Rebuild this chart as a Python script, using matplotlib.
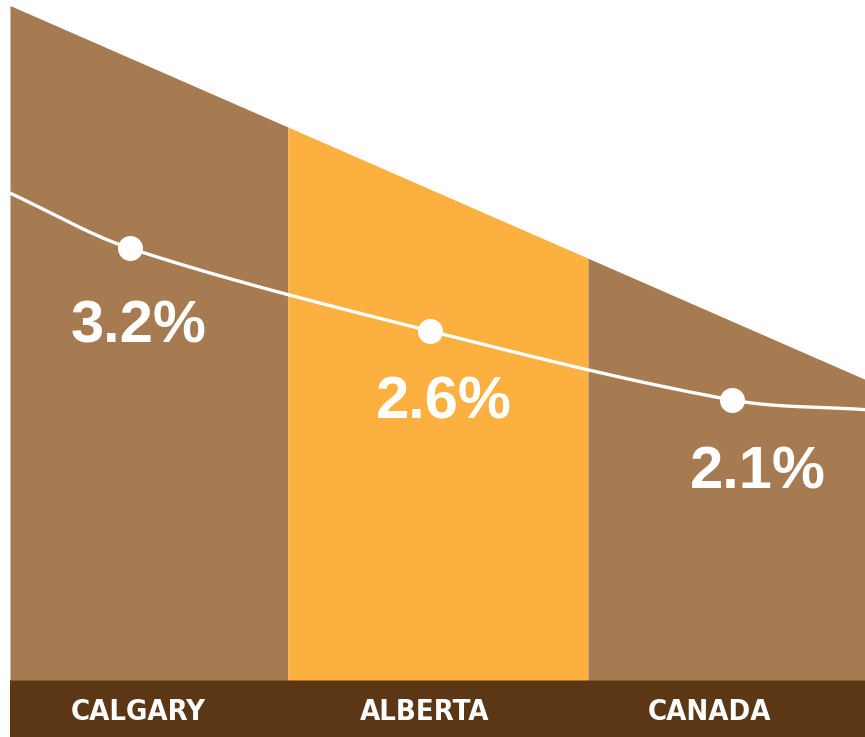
import numpy as np
import matplotlib
matplotlib.use('Agg')
import matplotlib.pyplot as plt
from matplotlib.patches import Rectangle

# Data
regions = ['CALGARY', 'ALBERTA', 'CANADA']
growth = [3.2, 2.6, 2.1]
labels = ['3.2%', '2.6%', '2.1%']
trend_left = 3.6    # where the curve leaves the left edge
trend_right = 2.03  # where it leaves the right edge
slope_top = [4.96, 2.25]  # decorative slanted top, left/right

# Colours
brown = '#A77B51'
orange = '#FBB040'
dark = '#5C3715'

# Layout (axis units)
edges = [-0.5, 0.475, 1.528, 2.5]
pt_x = [-0.079, 0.974, 2.033]
lab_x = [-0.047, 1.023, 2.125]
lab_y = [2.63, 2.08, 1.57]
cat_x = [-0.049, 0.956, 1.956]
col_colors = [brown, orange, brown]


def hermite(xs, ys, n=60):
    # cubic hermite through the points, y as a function of x
    xs = np.asarray(xs, float)
    ys = np.asarray(ys, float)
    m = np.zeros_like(ys)
    m[1:-1] = (ys[2:] - ys[:-2]) / (xs[2:] - xs[:-2])
    m[0] = (ys[1] - ys[0]) / (xs[1] - xs[0])
    m[-1] = (ys[-1] - ys[-2]) / (xs[-1] - xs[-2])
    ox, oy = [], []
    for i in range(len(xs) - 1):
        h = xs[i + 1] - xs[i]
        t = np.linspace(0, 1, n)
        h00 = 2 * t**3 - 3 * t**2 + 1
        h10 = t**3 - 2 * t**2 + t
        h01 = -2 * t**3 + 3 * t**2
        h11 = t**3 - t**2
        ox.extend(xs[i] + t * h)
        oy.extend(h00 * ys[i] + h10 * h * m[i] + h01 * ys[i + 1] + h11 * h * m[i + 1])
    return np.array(ox), np.array(oy)


fig = plt.figure(figsize=(8.65, 7.37), dpi=100)
ax = fig.add_axes([10 / 865, 57 / 737, 855 / 865, 680 / 737])
ax.set_zorder(2)
ax.set_xlim(-0.5, 2.5)
ax.set_ylim(0.07, 5.0)

# columns under the slanted top
top = lambda x: slope_top[0] + (slope_top[1] - slope_top[0]) * (x + 0.5) / 3.0
for i in range(3):
    xx = np.array([edges[i], edges[i + 1]])
    ax.fill_between(xx, 0.07, top(xx), color=col_colors[i], lw=0)

# trend line
lx = [-0.5] + pt_x + [2.5]
ly = [trend_left] + growth + [trend_right]
cx, cy = hermite(lx, ly)
ax.plot(cx, cy, color='white', lw=2.4, solid_capstyle='butt')
ax.plot(pt_x, growth, 'o', color='white', ms=18, mew=0)

for i in range(3):
    ax.text(lab_x[i], lab_y[i], labels[i], color='white', fontsize=43,
            fontweight='bold', ha='center', va='center',
            family=['Liberation Sans', 'DejaVu Sans'])

# bottom band with category names
fig.patches.append(Rectangle((10 / 865, 0), 855 / 865, 57 / 737,
                             transform=fig.transFigure, color=dark, lw=0,
                             zorder=0))
ax.set_xticks(cat_x)
ax.set_xticklabels(regions, color='white', fontsize=21, fontweight='bold',
                   family='DejaVu Sans', fontstretch='condensed')
ax.tick_params(axis='x', length=0, pad=13)
ax.set_yticks([])
for s in ax.spines.values():
    s.set_visible(False)

fig.savefig('out.png', dpi=100)
